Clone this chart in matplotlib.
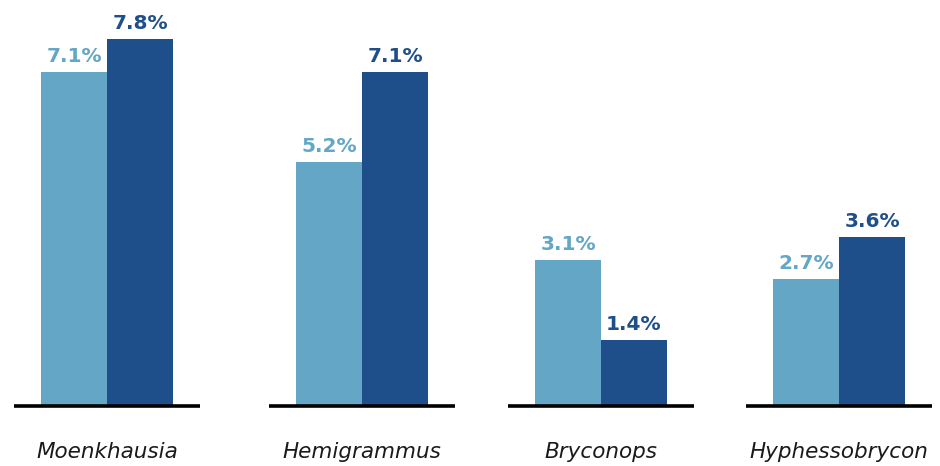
import matplotlib
matplotlib.use("Agg")
import matplotlib.pyplot as plt
import matplotlib.transforms as mtransforms

genera = ["Moenkhausia", "Hemigrammus", "Bryconops", "Hyphessobrycon"]
series_a = [7.1, 5.2, 3.1, 2.7]
series_b = [7.8, 7.1, 1.4, 3.6]
labels_a = ["7.1%", "5.2%", "3.1%", "2.7%"]
labels_b = ["7.8%", "7.1%", "1.4%", "3.6%"]

# layout (pixel-based x axis)
centers = [107, 362, 601, 839]
bar_w = 66
light = "#63a6c5"
dark = "#1f4f8a"

fig = plt.figure(figsize=(9.4, 4.66), dpi=100)
ax = fig.add_axes([0, 0, 1, 1])
ax.set_xlim(0, 940)
ppu = 47.0
ax.set_ylim(-60 / ppu, (466 - 60) / ppu)
ax.axis("off")

xa = [c - bar_w / 2 for c in centers]
xb = [c + bar_w / 2 for c in centers]
ax.bar(xa, series_a, width=bar_w, color=light, zorder=2)
ax.bar(xb, series_b, width=bar_w, color=dark, zorder=2)

off = 6 / ppu
for x, v, t in zip(xa, series_a, labels_a):
    ax.text(x, v + off, t, ha="center", va="bottom", color=light,
            fontsize=14.5, fontweight="bold", family="DejaVu Sans")
for x, v, t in zip(xb, series_b, labels_b):
    ax.text(x, v + off, t, ha="center", va="bottom", color=dark,
            fontsize=14.5, fontweight="bold", family="DejaVu Sans")

# baselines
half = 93
for i, c in enumerate(centers):
    ax.plot([c - half, c + half], [0, 0], color="black", lw=2.6,
            solid_capstyle="butt", zorder=3)

trans = mtransforms.blended_transform_factory(ax.transData, ax.transAxes)
for c, g in zip(centers, genera):
    ax.text(c, 0.03, g, ha="center", va="center", fontsize=15.5,
            style="italic", family="DejaVu Sans", color="#1a1a1a",
            transform=trans)

fig.savefig("out.png", dpi=100)
